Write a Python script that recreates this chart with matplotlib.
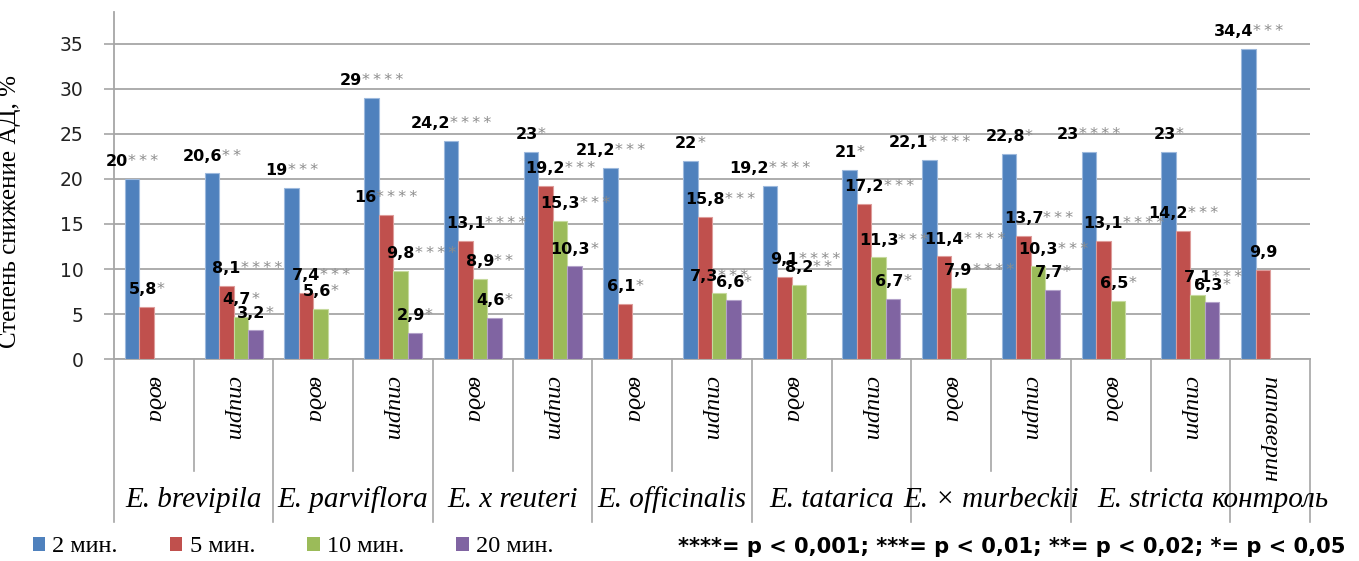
import matplotlib
matplotlib.use("Agg")
import matplotlib.pyplot as plt
import matplotlib.transforms as mtransforms
from matplotlib.offsetbox import TextArea, HPacker, AnnotationBbox
import numpy as np

# ---- data -------------------------------------------------------------
groups = ["E. brevipila", "E. parviflora", "E. x reuteri", "E. officinalis",
          "E. tatarica", "E. × murbeckii", "E. stricta", "контроль"]
categories = ["вода", "спирт"] * 7 + ["папаверин"]
series_names = ["2 мин.", "5 мин.", "10 мин.", "20 мин."]

min2 = [20, 20.6, 19, 29, 24.2, 23, 21.2, 22, 19.2, 21, 22.1, 22.8, 23, 23, 34.4]
min5 = [5.8, 8.1, 7.4, 16, 13.1, 19.2, 6.1, 15.8, 9.1, 17.2, 11.4, 13.7, 13.1, 14.2, 9.9]
min10 = [None, 4.7, 5.6, 9.8, 8.9, 15.3, None, 7.3, 8.2, 11.3, 7.9, 10.3, 6.5, 7.1, None]
min20 = [None, 3.2, None, 2.9, 4.6, 10.3, None, 6.6, None, 6.7, None, 7.7, None, 6.3, None]

# number of significance asterisks attached to each value
stars2 = [3, 2, 3, 4, 4, 1, 3, 1, 4, 1, 4, 1, 4, 1, 3]
stars5 = [1, 4, 3, 4, 4, 3, 1, 3, 4, 3, 4, 3, 4, 3, 0]
stars10 = [0, 1, 1, 4, 2, 3, 0, 3, 2, 3, 4, 3, 1, 3, 0]
stars20 = [0, 1, 0, 1, 1, 1, 0, 1, 0, 1, 0, 1, 0, 1, 0]

yticks = [0, 5, 10, 15, 20, 25, 30, 35]
ylabel = "Степень снижение АД, %"
note = "****= p < 0,001; ***= p < 0,01; **= p < 0,02; *= p < 0,05"

# ---- style ------------------------------------------------------------
colors = ["#4F81BD", "#C0504D", "#9BBB59", "#8064A2"]
edges = ["#9DB9DD", "#DE9C9A", "#C6DA9E", "#B3A2C9"]
grid_col = "#A6A6A6"
serif = ["Liberation Serif", "DejaVu Serif"]
sans = ["DejaVu Sans"]

# labels whose number (not the whole text) sits over the bar
value_centred = {(1, i) for i in (1, 2, 4, 5, 7, 8, 9, 10, 11, 12)} | \
                {(2, i) for i in (3, 4, 5, 8, 9, 10, 11, 13)}

W, H = 1359, 561
fig = plt.figure(figsize=(W / 100, H / 100), dpi=100)
fig.patch.set_facecolor("white")

ax_left, ax_right = 114 / W, 1310 / W
ax_bottom_px, ax_top_px = 359.3, 12
ax = fig.add_axes([ax_left, (H - ax_bottom_px) / H,
                   ax_right - ax_left, (ax_bottom_px - ax_top_px) / H])
ax_h_px = ax_bottom_px - ax_top_px


def ax_frac(py):
    """vertical pixel position (from the top) -> axes fraction"""
    return (ax_bottom_px - py) / ax_h_px


n_cat = len(categories)
x = np.arange(n_cat) + 0.5
bw = 1 / 5.5
series = [min2, min5, min10, min20]
stars = [stars2, stars5, stars10, stars20]

handles = []
for j, (vals, col, ec, name) in enumerate(zip(series, colors, edges, series_names)):
    xs = [x[i] + (j - 1.5) * bw for i, v in enumerate(vals) if v is not None]
    hs = [v for v in vals if v is not None]
    bars = ax.bar(xs, hs, width=bw, color=col, edgecolor=ec, linewidth=0.8,
                  label=name, zorder=3)
    handles.append(bars)

ax.set_xlim(0, n_cat)
ax.set_ylim(0, 38.5)
ax.set_yticks(yticks)
ax.set_yticklabels([str(t) for t in yticks], fontsize=13.5, color="#222222",
                   family=sans)
ax.tick_params(axis="y", length=7, width=1.2, color=grid_col, pad=15)
ax.tick_params(axis="x", length=0, labelbottom=False)
ax.grid(axis="y", color=grid_col, linewidth=1.3, zorder=0)
ax.set_axisbelow(True)
for side in ("top", "right"):
    ax.spines[side].set_visible(False)
for side in ("left", "bottom"):
    ax.spines[side].set_color(grid_col)
    ax.spines[side].set_linewidth(1.3)

ax.set_ylabel(ylabel, family=serif, fontsize=18, color="black")
ax.yaxis.set_label_coords(-(114 - 21) / (1310 - 114), ax_frac(211))


def fmt(v):
    return f"{v:g}".replace(".", ",")


def star_text(n):
    return "\u2009".join("*" * n)


num_props = dict(color="black", fontsize=11.5, fontweight="bold", family=sans)
star_props = dict(color="#8C8C8C", fontsize=11.5, family=sans)

for j, vals in enumerate(series):
    for i, v in enumerate(vals):
        if v is None:
            continue
        n = stars[j][i]
        parts = [TextArea(fmt(v), textprops=num_props)]
        if n:
            parts.append(TextArea(star_text(n), textprops=star_props))
            if (j, i) in value_centred:
                ghost = dict(star_props, alpha=0.0)
                parts.insert(0, TextArea(star_text(n), textprops=ghost))
        box = HPacker(children=parts, align="baseline", pad=0, sep=0)
        ab = AnnotationBbox(box, (x[i] + (j - 1.5) * bw, v), xycoords="data",
                            xybox=(0, 12.5), boxcoords="offset points",
                            box_alignment=(0.5, 0.5), frameon=False, pad=0,
                            annotation_clip=False, zorder=5)
        ax.add_artist(ab)

# category and group axis below the plot
trans = mtransforms.blended_transform_factory(ax.transData, ax.transAxes)
short_end, long_end = ax_frac(471), ax_frac(522)
for k in range(n_cat + 1):
    is_long = (k % 2 == 0) or k == n_cat
    ax.plot([k, k], [0, long_end if is_long else short_end], transform=trans,
            color=grid_col, linewidth=1.2, clip_on=False, zorder=2)

for i, c in enumerate(categories):
    ax.text(x[i], ax_frac(376), c, transform=trans, rotation=-90,
            ha="center", va="top", family=serif, style="italic", fontsize=17.5)

group_centres = [2 * g + 1 for g in range(7)] + [n_cat - 0.5]
for g, cx in zip(groups, group_centres):
    ax.text(cx, ax_frac(500), g, transform=trans, ha="center", va="center",
            family=serif, style="italic", fontsize=21)

leg = fig.legend(handles=handles, labels=series_names, ncol=4,
                 loc="center left", bbox_to_anchor=(33 / W, (H - 547) / H),
                 frameon=False, prop=dict(family=serif, size=17.5),
                 handlelength=0.5, handleheight=0.5, handletextpad=0.3,
                 columnspacing=2.15, borderpad=0, borderaxespad=0)
for p in leg.get_patches():
    p.set_edgecolor("none")

fig.text(1345 / W, (H - 547) / H, note, ha="right", va="center",
         family=sans, fontweight="bold", fontsize=15.1, color="black")

fig.savefig("out.png", dpi=100, facecolor="white")
